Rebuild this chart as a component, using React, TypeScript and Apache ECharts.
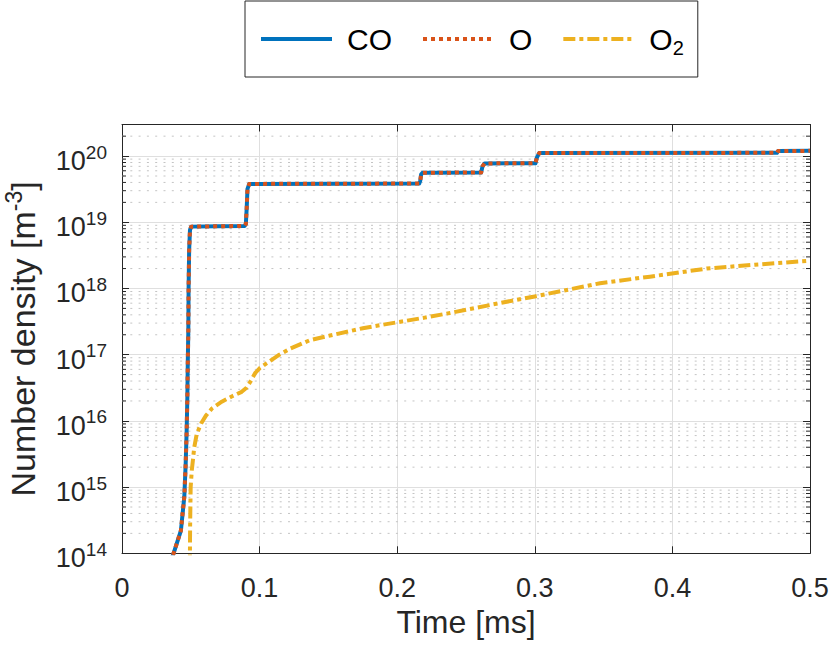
import React, { useEffect, useRef } from "react";
import * as echarts from "echarts";

// Time [ms]
const timeCO = [
  0.033, 0.0375, 0.0428, 0.0453, 0.0463, 0.047, 0.0475, 0.0478, 0.0482, 0.0484,
  0.0488, 0.0494, 0.0503, 0.07, 0.089, 0.09, 0.0906, 0.0912, 0.0925, 0.216,
  0.2168, 0.2174, 0.2185, 0.261, 0.262, 0.2635, 0.3005, 0.3015, 0.3032, 0.476,
  0.4768, 0.5,
];
// Number density [m^-3]
const densityCO = [
  5.6e13, 1.0e14, 2.2e14, 7.2e14, 2.3e15, 7.3e15, 2.3e16, 7.4e16, 2.3e17, 1.0e18,
  3.8e18, 7.6e18, 8.6e18, 8.7e18, 8.8e18, 9.4e18, 1.6e19, 3.2e19, 3.8e19, 3.85e19,
  4.3e19, 5.3e19, 5.6e19, 5.65e19, 7.0e19, 7.75e19, 7.8e19, 9.5e19, 1.11e20, 1.12e20,
  1.19e20, 1.2e20,
];
const timeO = [
  0.033, 0.0375, 0.0428, 0.0453, 0.0463, 0.047, 0.0475, 0.0478, 0.0482, 0.0484,
  0.0488, 0.0494, 0.0503, 0.07, 0.089, 0.09, 0.0906, 0.0912, 0.0925, 0.216,
  0.2168, 0.2174, 0.2185, 0.261, 0.262, 0.2635, 0.3005, 0.3015, 0.3032, 0.476,
  0.4768, 0.5,
];
const densityO = [
  5.6e13, 1.0e14, 2.2e14, 7.2e14, 2.3e15, 7.3e15, 2.3e16, 7.4e16, 2.3e17, 1.0e18,
  3.8e18, 7.6e18, 8.6e18, 8.7e18, 8.8e18, 9.4e18, 1.6e19, 3.2e19, 3.8e19, 3.85e19,
  4.3e19, 5.3e19, 5.6e19, 5.65e19, 7.0e19, 7.75e19, 7.8e19, 9.5e19, 1.11e20, 1.12e20,
  1.19e20, 1.2e20,
];
const timeO2 = [
  0.0493, 0.0495, 0.0499, 0.0507, 0.0515, 0.0525, 0.0543, 0.0575, 0.061, 0.0655,
  0.0725, 0.0797, 0.087, 0.0905, 0.0935, 0.0967, 0.1003, 0.105, 0.1136, 0.1221,
  0.1366, 0.1512, 0.175, 0.2, 0.22, 0.2384, 0.2747, 0.3, 0.3474, 0.3837,
  0.4249, 0.46, 0.5,
];
const densityO2 = [
  6.3e13, 2.5e14, 1.0e15, 1.78e15, 2.51e15, 3.98e15, 6.31e15, 9.12e15, 1.2e16, 1.55e16,
  1.95e16, 2.34e16, 2.75e16, 3.16e16, 3.98e16, 5.25e16, 6.31e16, 7.41e16, 9.77e16, 1.23e17,
  1.66e17, 1.95e17, 2.51e17, 3.09e17, 3.63e17, 4.27e17, 6.03e17, 7.59e17, 1.2e18, 1.51e18,
  2.0e18, 2.29e18, 2.63e18,
];

const seriesNames = ["CO", "O", "O2"];
const xTickValues = [0, 0.1, 0.2, 0.3, 0.4, 0.5];
const yDecades = [14, 15, 16, 17, 18, 19, 20];
const minorMultipliers = [2, 3, 4, 5, 6, 7, 8, 9];

const X_MIN = 0;
const X_MAX = 0.5;
const Y_MIN = 1e14;
const Y_MAX = 3e20;

const AXIS = "#262626";
const GRID = "#dfdfdf";
const MINOR = "#c4c4c4";
const FONT = "'Liberation Sans', Arial, Helvetica, sans-serif";

const pairs = (t: number[], v: number[]) => t.map((x, i) => [x, v[i]]);

const minorValues: number[] = [];
yDecades.forEach((d) => {
  minorMultipliers.forEach((m) => {
    const v = m * Math.pow(10, d);
    if (v < Y_MAX * 0.999) minorValues.push(v);
  });
});

export default function App() {
  const ref = useRef<HTMLDivElement>(null);

  useEffect(() => {
    document.body.style.margin = "0";
    if (!ref.current) return;
    const chart = echarts.init(ref.current, undefined, { renderer: "svg" });

    const yLabelRich = {
      b: {
        fontSize: 27,
        lineHeight: 27,
        fontFamily: FONT,
        color: AXIS,
        padding: [5, 0, 0, 0],
      },
      s: {
        fontSize: 19,
        lineHeight: 19,
        fontFamily: FONT,
        color: AXIS,
        padding: [0, 0, 13, 0],
      },
    };

    const option: any = {
      animation: false,
      backgroundColor: "#ffffff",
      grid: {
        left: 122,
        right: 20,
        top: 124.5,
        bottom: 91.7,
        containLabel: false,
        outerBoundsMode: "none",
      },
      legend: {
        data: seriesNames,
        left: 245,
        top: 1,
        orient: "horizontal",
        padding: [19, 14, 19, 14],
        borderColor: AXIS,
        borderWidth: 1,
        backgroundColor: "#ffffff",
        itemWidth: 71,
        itemHeight: 14,
        itemGap: 29,
        selectedMode: false,
        lineStyle: { width: 4 },
        itemStyle: { opacity: 0, color: "rgba(0,0,0,0)", borderWidth: 0 },
        formatter: (name: string) =>
          name === "O2" ? "{n|O}{s|2}" : `{n|${name}}`,
        textStyle: {
          fontSize: 30,
          fontFamily: FONT,
          color: "#000000",
          padding: [0, 0, 0, 10],
          rich: {
            n: { fontSize: 30, lineHeight: 31, fontFamily: FONT, color: "#000000" },
            s: {
              fontSize: 20,
              lineHeight: 17,
              fontFamily: FONT,
              color: "#000000",
              padding: [18, 0, 0, 0],
            },
          },
        },
      },
      xAxis: [
        {
          type: "value",
          min: X_MIN,
          max: X_MAX,
          interval: 0.1,
          position: "bottom",
          name: "Time [ms]",
          nameLocation: "middle",
          nameGap: 47,
          nameTextStyle: { fontSize: 32, fontFamily: FONT, color: AXIS },
          axisLine: { show: true, onZero: false, lineStyle: { color: AXIS, width: 1 } },
          axisTick: { show: true, inside: true, length: 7, lineStyle: { color: AXIS } },
          axisLabel: {
            show: true,
            margin: 21,
            fontSize: 27,
            fontFamily: FONT,
            color: AXIS,
            formatter: (v: number) =>
              xTickValues.some((t) => Math.abs(t - v) < 1e-9) ? String(Math.round(v * 10) / 10) : "",
          },
          splitLine: { show: true, lineStyle: { color: GRID, width: 1 } },
        },
        {
          type: "value",
          min: X_MIN,
          max: X_MAX,
          interval: 0.1,
          position: "top",
          axisLine: { show: true, onZero: false, lineStyle: { color: AXIS, width: 1 } },
          axisTick: { show: true, inside: true, length: 7, lineStyle: { color: AXIS } },
          axisLabel: { show: false },
          splitLine: { show: false },
        },
      ],
      yAxis: [
        {
          type: "log",
          logBase: 10,
          min: Y_MIN,
          max: Y_MAX,
          position: "left",
          name: "{n|Number density [m}{s|-3}{n|]}",
          nameLocation: "middle",
          nameRotate: 90,
          nameGap: 84,
          nameTextStyle: {
            fontSize: 34,
            fontFamily: FONT,
            color: AXIS,
            rich: {
              n: { fontSize: 34, lineHeight: 34, fontFamily: FONT, color: AXIS, padding: [4, 0, 0, 0] },
              s: {
                fontSize: 23,
                lineHeight: 23,
                fontFamily: FONT,
                color: AXIS,
                padding: [0, 0, 15, 0],
              },
            },
          },
          axisLine: { show: true, onZero: false, lineStyle: { color: AXIS, width: 1 } },
          axisTick: { show: true, inside: true, length: 7, lineStyle: { color: AXIS } },
          axisLabel: {
            show: true,
            margin: 15,
            padding: [5, 0, 0, 0],
            formatter: (v: number) => {
              const e = Math.log10(v);
              const r = Math.round(e);
              if (Math.abs(e - r) < 1e-6 && yDecades.indexOf(r) >= 0) return `{b|10}{s|${r}}`;
              return "";
            },
            rich: yLabelRich,
          },
          splitLine: { show: true, lineStyle: { color: GRID, width: 1 } },
        },
        {
          type: "log",
          logBase: 10,
          min: Y_MIN,
          max: Y_MAX,
          position: "right",
          axisLine: { show: true, onZero: false, lineStyle: { color: AXIS, width: 1 } },
          axisTick: { show: true, inside: true, length: 7, lineStyle: { color: AXIS } },
          axisLabel: { show: false },
          splitLine: { show: false },
        },
      ],
      series: [
        {
          type: "custom",
          xAxisIndex: 0,
          yAxisIndex: 0,
          silent: true,
          z: 1,
          clip: false,
          encode: { x: 0, y: 1 },
          data: minorValues.map((v) => [X_MIN, v]),
          renderItem: (params: any, api: any) => {
            const v = api.value(1);
            const pL = api.coord([X_MIN, v]);
            const pR = api.coord([X_MAX, v]);
            return {
              type: "group",
              children: [
                {
                  type: "line",
                  shape: { x1: pL[0], y1: pL[1], x2: pR[0], y2: pR[1] },
                  style: { stroke: MINOR, lineWidth: 1, lineDash: [2, 6.3] },
                },
                {
                  type: "line",
                  shape: { x1: pL[0], y1: pL[1], x2: pL[0] + 4, y2: pL[1] },
                  style: { stroke: AXIS, lineWidth: 1 },
                },
                {
                  type: "line",
                  shape: { x1: pR[0] - 4, y1: pR[1], x2: pR[0], y2: pR[1] },
                  style: { stroke: AXIS, lineWidth: 1 },
                },
              ],
            };
          },
        },
        {
          name: "CO",
          type: "line",
          xAxisIndex: 0,
          yAxisIndex: 0,
          data: pairs(timeCO, densityCO),
          symbol: "none",
          showSymbol: false,
          smooth: false,
          silent: true,
          z: 3,
          color: "#0072BD",
          lineStyle: { color: "#0072BD", width: 4, type: "solid", join: "round" },
        },
        {
          name: "O",
          type: "line",
          xAxisIndex: 0,
          yAxisIndex: 0,
          data: pairs(timeO, densityO),
          symbol: "none",
          showSymbol: false,
          smooth: false,
          silent: true,
          z: 4,
          color: "#D95319",
          lineStyle: { color: "#D95319", width: 4, type: [4, 4], cap: "butt", join: "round" },
        },
        {
          name: "O2",
          type: "line",
          xAxisIndex: 0,
          yAxisIndex: 0,
          data: pairs(timeO2, densityO2),
          symbol: "none",
          showSymbol: false,
          smooth: false,
          silent: true,
          z: 5,
          color: "#EDB120",
          lineStyle: { color: "#EDB120", width: 4, type: [12, 4, 4, 4], cap: "butt", join: "round" },
        },
      ],
    };

    chart.setOption(option);
    return () => chart.dispose();
  }, []);

  return <div ref={ref} style={{ width: 830, height: 645 }} />;
}
